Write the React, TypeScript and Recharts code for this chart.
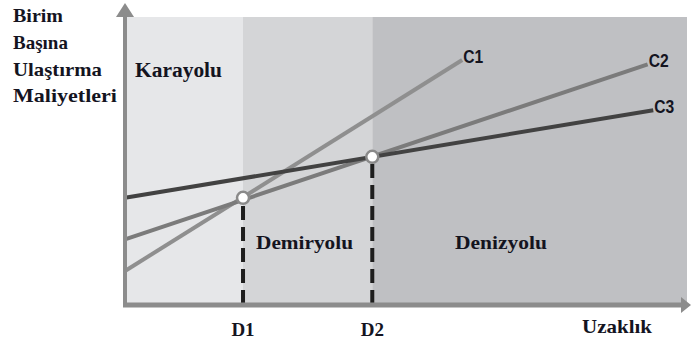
import React from "react";
import {
  ComposedChart,
  Line,
  ReferenceArea,
  ReferenceDot,
  ReferenceLine,
  XAxis,
  YAxis
} from "recharts";

// distance (0-100) vs unit transport cost (0-100)
const c1 = [
  { x: 0, y: 11.5 },
  { x: 60, y: 85 }
];
const c2 = [
  { x: 0, y: 22.5 },
  { x: 93, y: 83.5 }
];
const c3 = [
  { x: 0, y: 37 },
  { x: 94, y: 67.5 }
];
const breakPoints = [
  { name: "D1", x: 21, y: 37 },
  { name: "D2", x: 44, y: 51.3 }
];
const zones = [
  { name: "Karayolu", from: 0, to: 21, fill: "#e6e7e9" },
  { name: "Demiryolu", from: 21, to: 44, fill: "#d4d5d7" },
  { name: "Denizyolu", from: 44, to: 100, fill: "#bfc0c3" }
];
const yTitle = ["Birim", "Başına", "Ulaştırma", "Maliyetleri"];

const serif = "'Liberation Serif', 'Times New Roman', serif";
const sans = "'Liberation Sans', Arial, sans-serif";
const ink = "#14141f";
const axisGray = "#8c8c8c";

const endLabel = (text: string, count: number) => (p: any) => {
  if (p.index !== count - 1) return null;
  return (
    <text
      x={p.x + 1}
      y={p.y + 3}
      fontFamily={sans}
      fontWeight="bold"
      fontSize={19}
      fill={ink}
      textLength={20}
      lengthAdjust="spacingAndGlyphs"
    >
      {text}
    </text>
  );
};

const YArrow = (p: any) => {
  const x = p.x1;
  const top = Math.min(p.y1, p.y2);
  const bottom = Math.max(p.y1, p.y2);
  return (
    <g>
      <line x1={x} x2={x} y1={bottom + 3} y2={top - 2} stroke={axisGray} strokeWidth={4} />
      <polygon points={`${x - 9},${top} ${x + 9},${top} ${x},${top - 14}`} fill={axisGray} />
    </g>
  );
};

const XArrow = (p: any) => {
  const y = p.y1;
  const left = Math.min(p.x1, p.x2);
  const right = Math.max(p.x1, p.x2);
  return (
    <g>
      <line x1={left - 2} x2={right - 4} y1={y + 1} y2={y + 1} stroke={axisGray} strokeWidth={5} />
      <polygon points={`${right - 6},${y - 7} ${right - 6},${y + 9} ${right + 4},${y + 1}`} fill={axisGray} />
    </g>
  );
};

const txt = { fontFamily: serif, fontWeight: "bold" as const, fill: ink };

export default function App() {
  return (
    <div style={{ position: "absolute", left: 0, top: 0, width: 691, height: 343, background: "#fff" }}>
      <ComposedChart width={691} height={343} margin={{ top: 17, right: 4, left: 125, bottom: 39 }}>
        <XAxis type="number" dataKey="x" domain={[0, 100]} hide allowDuplicatedCategory={false} />
        <YAxis type="number" domain={[0, 100]} hide />
        {zones.map((z) => (
          <ReferenceArea
            key={z.name}
            x1={z.from}
            x2={z.to}
            y1={0}
            y2={100}
            fill={z.fill}
            fillOpacity={1}
            stroke="none"
          />
        ))}
        <Line
          data={c1}
          dataKey="y"
          stroke="#8f8f8f"
          strokeWidth={4}
          dot={false}
          isAnimationActive={false}
          label={endLabel("C1", c1.length)}
        />
        <Line
          data={c2}
          dataKey="y"
          stroke="#7b7b7b"
          strokeWidth={4}
          dot={false}
          isAnimationActive={false}
          label={endLabel("C2", c2.length)}
        />
        <Line
          data={c3}
          dataKey="y"
          stroke="#424242"
          strokeWidth={4}
          dot={false}
          isAnimationActive={false}
          label={endLabel("C3", c3.length)}
        />
        {breakPoints.map((b) => (
          <ReferenceLine
            key={b.name + "-dash"}
            segment={[
              { x: b.x, y: 0 },
              { x: b.x, y: b.y }
            ]}
            stroke="#1e1e1e"
            strokeWidth={4}
            strokeDasharray="14 7"
          />
        ))}
        {breakPoints.map((b) => (
          <ReferenceDot
            key={b.name + "-dot"}
            x={b.x}
            y={b.y}
            r={6}
            fill="#ffffff"
            stroke="#8a8a8a"
            strokeWidth={2.5}
          />
        ))}
        <ReferenceLine x={0} stroke={axisGray} shape={YArrow} />
        <ReferenceLine y={0} stroke={axisGray} shape={XArrow} />
        {breakPoints.map((b) => (
          <ReferenceDot
            key={b.name + "-tick"}
            x={b.x}
            y={0}
            r={0}
            fill="none"
            stroke="none"
            label={{
              value: b.name,
              position: "bottom",
              offset: 19,
              fontFamily: serif,
              fontWeight: "bold",
              fontSize: 19,
              fill: ink
            }}
          />
        ))}
      </ComposedChart>
      <svg
        width={691}
        height={343}
        style={{ position: "absolute", left: 0, top: 0, pointerEvents: "none" }}
      >
        <text x={13} y={22} {...txt} fontSize={19} textLength={50} lengthAdjust="spacingAndGlyphs">
          {yTitle[0]}
        </text>
        <text x={13} y={49} {...txt} fontSize={19}>
          {yTitle[1]}
        </text>
        <text x={13} y={76} {...txt} fontSize={19} textLength={89} lengthAdjust="spacingAndGlyphs">
          {yTitle[2]}
        </text>
        <text x={13} y={102} {...txt} fontSize={19} textLength={104} lengthAdjust="spacingAndGlyphs">
          {yTitle[3]}
        </text>
        <text x={135} y={77} {...txt} fontSize={20} textLength={87} lengthAdjust="spacingAndGlyphs">
          {zones[0].name}
        </text>
        <text x={256} y={249} {...txt} fontSize={19} textLength={97} lengthAdjust="spacingAndGlyphs">
          {zones[1].name}
        </text>
        <text x={455} y={249} {...txt} fontSize={19} textLength={92} lengthAdjust="spacingAndGlyphs">
          {zones[2].name}
        </text>
        <text x={582} y={333} {...txt} fontSize={19} textLength={70} lengthAdjust="spacingAndGlyphs">
          Uzaklık
        </text>
      </svg>
    </div>
  );
}
